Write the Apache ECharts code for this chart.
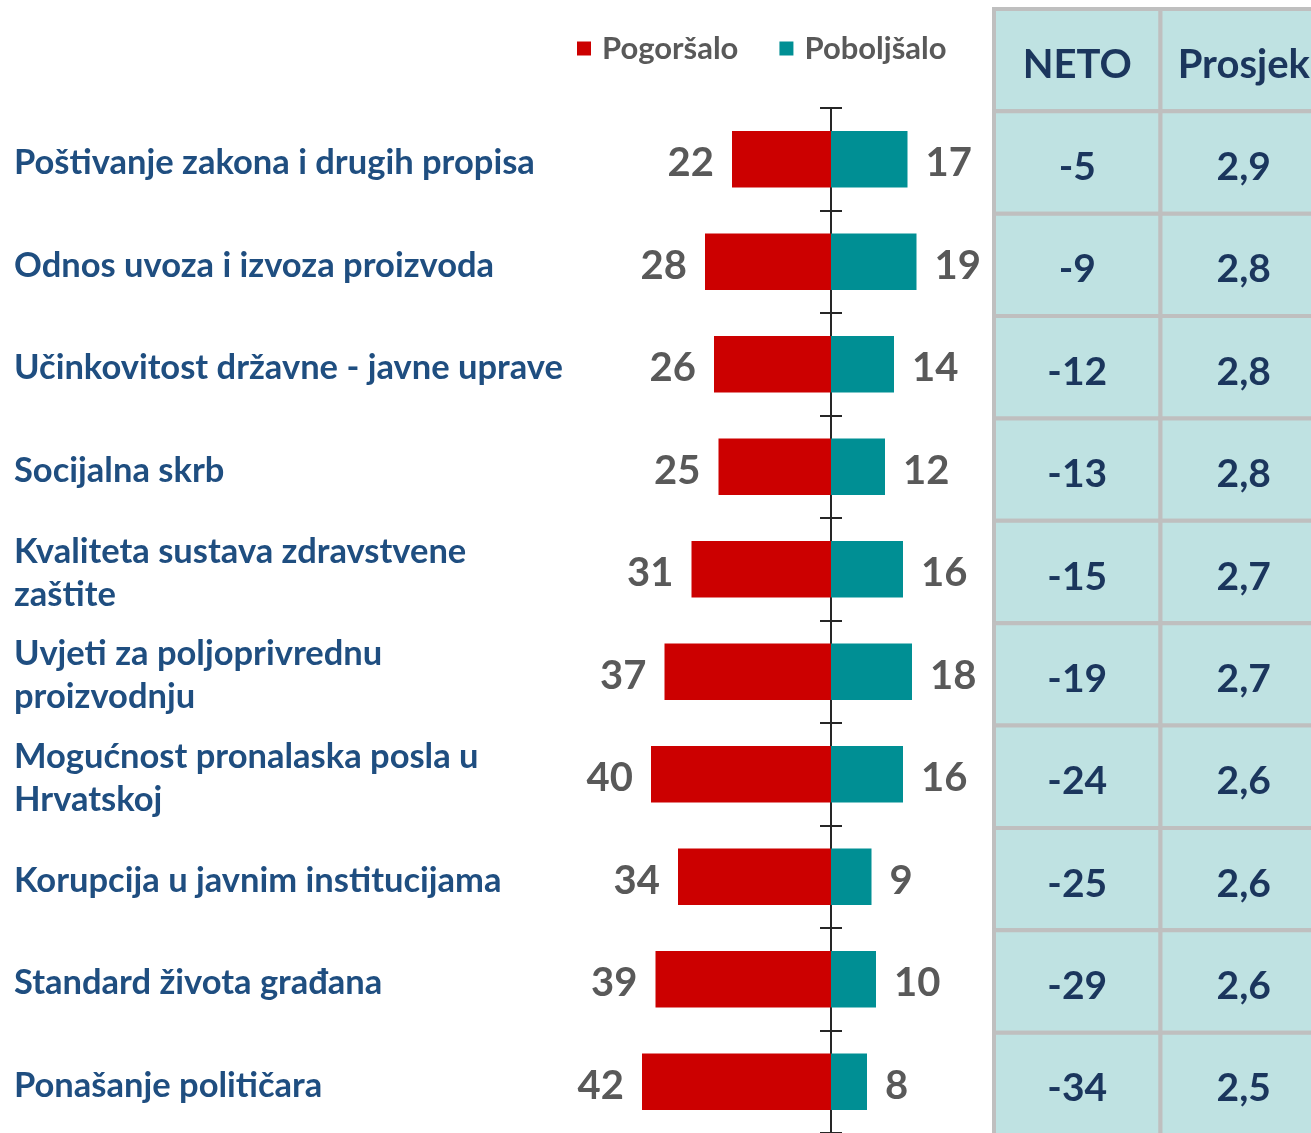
<!DOCTYPE html>
<html>
<head>
<meta charset="utf-8">
<script src="https://cdn.jsdelivr.net/npm/echarts@6/dist/echarts.min.js"></script>
<style>
    html, body { margin: 0; padding: 0; background: #fff; }
    #chart { width: 1311px; height: 1133px; }
</style>
</head>
<body>
<div id="chart"></div>
<script>
// kategorije (odozgo prema dolje)
const categories = [
    "Poštivanje zakona i drugih propisa",
    "Odnos uvoza i izvoza proizvoda",
    "Učinkovitost državne - javne uprave",
    "Socijalna skrb",
    "Kvaliteta sustava zdravstvene\nzaštite",
    "Uvjeti za poljoprivrednu\nproizvodnju",
    "Mogućnost pronalaska posla u\nHrvatskoj",
    "Korupcija u javnim institucijama",
    "Standard života građana",
    "Ponašanje političara",
];
const pogorsalo = [22, 28, 26, 25, 31, 37, 40, 34, 39, 42];
const poboljsalo = [17, 19, 14, 12, 16, 18, 16, 9, 10, 8];
const neto = [-5, -9, -12, -13, -15, -19, -24, -25, -29, -34];
const prosjek = ["2,9", "2,8", "2,8", "2,8", "2,7", "2,7", "2,6", "2,6", "2,6", "2,5"];
const tableHeader = ["NETO", "Prosjek"];

const FONT = "Lato";
const RED = "#cc0000";
const TEAL = "#008f94";

// tablica: red 0 je zaglavlje
const tableRows = ["header"].concat(categories);
const tableData = [];
tableHeader.forEach((h, c) => tableData.push([c, 0, h]));
neto.forEach((v, i) => tableData.push([0, i + 1, String(v)]));
prosjek.forEach((v, i) => tableData.push([1, i + 1, v]));

const chart = echarts.init(document.getElementById("chart"));

const axisLineStyle = { color: "#262626", width: 2 };
const barGrid = { left: 606, width: 450, top: 108, height: 1025, outerBoundsMode: "none" };

const option = {
    animation: false,
    legend: {
        data: ["Pogoršalo", "Poboljšalo"],
        left: 572,
        top: 28,
        icon: "rect",
        itemWidth: 14,
        itemHeight: 14,
        itemGap: 41,
        textStyle: {
            fontFamily: FONT,
            fontWeight: "bold",
            fontSize: 31,
            color: "#595959",
            padding: [0, 0, 0, 6],
        },
    },
    grid: [
        barGrid,
        { left: 994, width: 333, top: 9, height: 1126, outerBoundsMode: "none" },
        // ista mreža još jednom, samo za kvačice udesno
        Object.assign({}, barGrid),
        // nazivi kategorija, malo niže
        Object.assign({}, barGrid, { top: 112 }),
    ],
    xAxis: [
        { gridIndex: 0, type: "value", min: -50, max: 50, show: false },
        { gridIndex: 1, type: "category", data: tableHeader, show: false },
        { gridIndex: 2, type: "value", min: -50, max: 50, show: false },
        { gridIndex: 3, type: "value", min: -50, max: 50, show: false },
    ],
    yAxis: [
        {
            // središnja os, kvačice ulijevo
            gridIndex: 0,
            type: "category",
            data: categories,
            inverse: true,
            position: "left",
            axisLine: { show: true, onZero: true, lineStyle: axisLineStyle },
            axisTick: { show: true, length: 11, lineStyle: axisLineStyle },
            axisLabel: { show: false },
        },
        {
            // nazivi kategorija
            gridIndex: 3,
            type: "category",
            data: categories,
            inverse: true,
            position: "left",
            axisLine: { show: false, onZero: false },
            axisTick: { show: false },
            axisLabel: {
                align: "left",
                margin: 592,
                fontFamily: FONT,
                fontWeight: "bold",
                fontSize: 34.5,
                lineHeight: 43,
                color: "#1f4e80",
            },
        },
        {
            gridIndex: 1,
            type: "category",
            data: tableRows,
            inverse: true,
            show: false,
        },
        {
            // središnja os, kvačice udesno
            gridIndex: 2,
            type: "category",
            data: categories,
            inverse: true,
            position: "left",
            axisLine: { show: true, onZero: true, lineStyle: axisLineStyle },
            axisTick: { show: true, inside: true, length: 11, lineStyle: axisLineStyle },
            axisLabel: { show: false },
        },
    ],
    series: [
        {
            name: "Pogoršalo",
            type: "bar",
            xAxisIndex: 0,
            yAxisIndex: 0,
            stack: "t",
            barWidth: "55%",
            data: pogorsalo.map((v) => -v),
            itemStyle: { color: RED },
            label: {
                show: true,
                position: "left",
                distance: 18,
                offset: [0, 4],
                formatter: (p) => Math.abs(p.value),
                fontFamily: FONT,
                fontWeight: "bold",
                fontSize: 40,
                color: "#595959",
            },
        },
        {
            name: "Poboljšalo",
            type: "bar",
            xAxisIndex: 0,
            yAxisIndex: 0,
            stack: "t",
            barWidth: "55%",
            data: poboljsalo,
            itemStyle: { color: TEAL },
            label: {
                show: true,
                position: "right",
                distance: 18,
                offset: [0, 4],
                fontFamily: FONT,
                fontWeight: "bold",
                fontSize: 40,
                color: "#595959",
            },
        },
        {
            type: "custom",
            xAxisIndex: 1,
            yAxisIndex: 2,
            data: tableData,
            renderItem: (params, api) => {
                const c = api.coord([api.value(0), api.value(1)]);
                const s = api.size([1, 1]);
                const text = tableData[params.dataIndex][2];
                const isHeader = api.value(1) === 0;
                return {
                    type: "group",
                    children: [
                        {
                            type: "rect",
                            shape: { x: c[0] - s[0] / 2, y: c[1] - s[1] / 2, width: s[0], height: s[1] },
                            style: { fill: "#bfe2e2", stroke: "#bfbfbf", lineWidth: 4 },
                        },
                        {
                            type: "text",
                            x: c[0],
                            y: c[1] + 5,
                            style: {
                                text: text,
                                align: "center",
                                verticalAlign: "middle",
                                font: "bold " + (isHeader ? 40 : 39) + "px " + FONT,
                                fill: "#1b365d",
                            },
                        },
                    ],
                };
            },
        },
    ],
};

chart.setOption(option);
</script>
</body>
</html>
